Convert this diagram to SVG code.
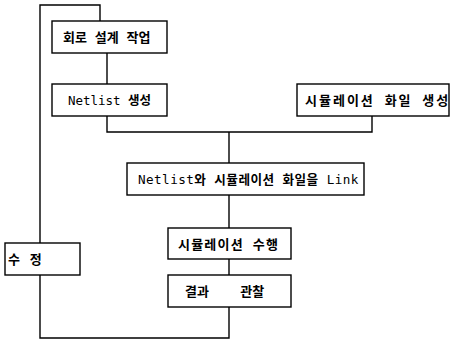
<svg xmlns="http://www.w3.org/2000/svg" width="450" height="343" viewBox="0 0 450 343">
<style>
.box{fill:#fff;stroke:#000;stroke-width:1.4}
.ln{fill:none;stroke:#000;stroke-width:1.4}
text{font-family:"DejaVu Sans Mono","Noto Sans CJK KR",monospace;font-size:13px;fill:#000}
.k{font-weight:bold}
</style>
<rect width="450" height="343" fill="#fff"/>
<g id="connectors">
<path class="ln" d="M40,243 V5 H100 V21"/>
<path class="ln" d="M107,53 V84"/>
<path class="ln" d="M107,116 V132 H372 V116"/>
<path class="ln" d="M229,132 V163"/>
<path class="ln" d="M229,195 V228"/>
<path class="ln" d="M229,259 V275"/>
<path class="ln" d="M229,307 V338 H40 V275"/>
</g>
<g id="n1"><rect class="box" x="52" y="21" width="115" height="32"/><text class="k" x="63" y="42">회로 설계 작업</text></g>
<g id="n2"><rect class="box" x="52" y="84" width="115" height="32"/><text x="109.5" y="105" text-anchor="middle" style="font-size:12.5px">Netlist <tspan class="k">생성</tspan></text></g>
<g id="n3"><rect class="box" x="297" y="84" width="152" height="32"/><text class="k" x="305" y="105" letter-spacing="2">시뮬레이션 화일 생성</text></g>
<g id="n4"><rect class="box" x="127" y="163" width="237" height="32"/><text x="138" y="184" style="font-size:12.6px" letter-spacing="0.45">Netlist<tspan class="k">와 시뮬레이션 화일을</tspan> Link</text></g>
<g id="n5"><rect class="box" x="168" y="228" width="123" height="31"/><text class="k" x="178" y="248.5" letter-spacing="1.2">시뮬레이션 수행</text></g>
<g id="n6"><rect class="box" x="168" y="275" width="123" height="32"/><text class="k" x="185" y="296" xml:space="preserve">결과    관찰</text></g>
<g id="n7"><rect class="box" x="5" y="243" width="75" height="32"/><text class="k" x="8" y="264" letter-spacing="1">수 정</text></g>
</svg>
